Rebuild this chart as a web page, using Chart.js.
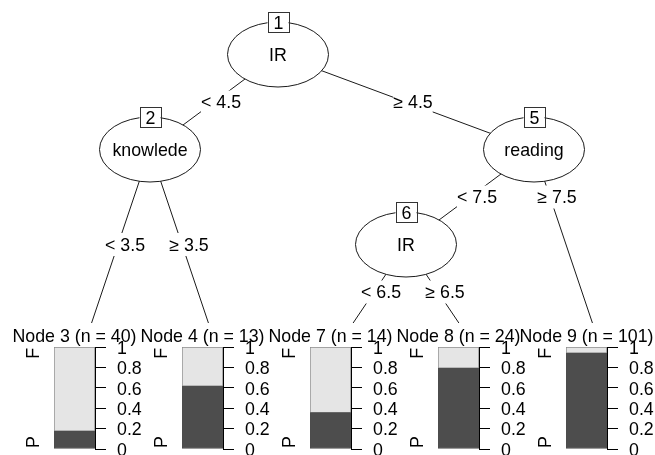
<!DOCTYPE html>
<html><head><meta charset="utf-8">
<script src="https://cdn.jsdelivr.net/npm/chart.js@4.4.0/dist/chart.umd.min.js"></script>
<style>
html,body{margin:0;padding:0;background:#fff;overflow:hidden;width:655px;height:455px;position:relative}
canvas{position:absolute;display:block}
</style></head><body>
<canvas id="tree" width="655" height="455" style="left:0;top:0"></canvas>
<script>
// ---------- data ----------
const innerIds = [1, 2, 5, 6];
const innerVars = ['IR', 'knowlede', 'reading', 'IR'];
const innerKids = [[2, 5], [3, 4], [6, 9], [7, 8]];
const edgeChildIds = [2, 5, 3, 4, 6, 9, 7, 8];
const edgeLabels = ['< 4.5', '\u2265 4.5', '< 3.5', '\u2265 3.5', '< 7.5', '\u2265 7.5', '< 6.5', '\u2265 6.5'];
const terminalIds = [3, 4, 7, 8, 9];
const terminalN = [40, 13, 14, 24, 101];
const countP = [7, 8, 5, 19, 95];
const countF = [33, 5, 9, 5, 6];
const classLevels = ['P', 'F'];
const tickValues = [0, 0.2, 0.4, 0.6, 0.8, 1];
const tickLabels = ['0', '0.2', '0.4', '0.6', '0.8', '1'];

// ---------- style ----------
const FONT = '"Liberation Sans", Arial, Helvetica, sans-serif';
const FS = 17.8;
Chart.defaults.font.family = FONT;
Chart.defaults.font.size = FS;
Chart.defaults.color = '#000';

// ---------- tree layout (partykit rule) ----------
const TNEX = 2;
const kidsOf = id => { const i = innerIds.indexOf(id); return i < 0 ? null : innerKids[i]; };
const widthOf = id => { const k = kidsOf(id); return k ? k.reduce((s, c) => s + widthOf(c), 0) : 1; };
const depthOf = id => { const k = kidsOf(id); return k ? 1 + Math.max(...k.map(depthOf)) : 0; };
const posFrac = id => {
  const k = kidsOf(id); if (!k) return 0.5;
  const w = k.map(widthOf), nk = w.length, tot = w.reduce((a, b) => a + b, 0);
  const cs = []; w.reduce((a, b, i) => (cs[i] = a + b), 0);
  const r = nk % 2 === 0 ? cs[nk / 2 - 1] : ((nk > 1 ? cs[(nk - 3) / 2] || 0 : 0) + cs[(nk - 1) / 2]) / 2;
  return r / tot;
};
const rootId = innerIds[0];
const nTerm = widthOf(rootId);
const rootY = TNEX + depthOf(rootId) - 0.5;
const nodePos = {}, edges = [];
function place(id, xlim, y0) {
  const x0 = xlim[0] + posFrac(id) * (xlim[1] - xlim[0]);
  nodePos[id] = { x: x0, y: y0 };
  const k = kidsOf(id); if (!k) return;
  const w = k.map(widthOf), tot = w.reduce((a, b) => a + b, 0);
  const lims = [xlim[0]]; let acc = 0;
  w.forEach(v => { acc += v; lims.push(xlim[0] + acc / tot * (xlim[1] - xlim[0])); });
  const x1 = k.map((c, i) => lims[i] + posFrac(c) * (lims[i + 1] - lims[i]));
  const y1 = k.map(c => kidsOf(c) ? y0 - 1 : TNEX - 0.5);
  const yl = y0 - (y0 - Math.max(...y1)) * 0.5;
  k.forEach((c, i) => {
    const xl = x0 + (x1[i] - x0) * (y0 - yl) / (y0 - y1[i]);
    edges.push({ child: c, x0, y0, x1: x1[i], y1: y1[i], xl, yl, label: edgeLabels[edgeChildIds.indexOf(c)] });
    if (kidsOf(c)) place(c, [lims[i], lims[i + 1]], y1[i]);
    else nodePos[c] = { x: x1[i], y: y1[i] };
  });
}
place(rootId, [0, nTerm], rootY);

// ---------- tree chart ----------
const PXU = 128, PXV = 95, X0PX = 22, ROOTPX = 54.5, TREEBOTTOM = 323;
const treeDecor = {
  id: 'treeDecor',
  afterDatasetsDraw(chart) {
    const ctx = chart.ctx, xs = chart.scales.x, ys = chart.scales.y;
    ctx.save();
    ctx.font = FS + 'px ' + FONT;
    // edge labels
    edges.forEach(e => {
      const px = xs.getPixelForValue(e.xl) + 7, py = ys.getPixelForValue(e.yl);
      const w = ctx.measureText(e.label).width;
      ctx.fillStyle = '#fff';
      ctx.fillRect(px - w / 2, py - 11.5, w, 23);
      ctx.fillStyle = '#000'; ctx.textAlign = 'center'; ctx.textBaseline = 'alphabetic';
      ctx.fillText(e.label, px, py + 6.3);
    });
    // inner nodes
    innerIds.forEach((id, i) => {
      const cx = xs.getPixelForValue(nodePos[id].x), cy = ys.getPixelForValue(nodePos[id].y);
      ctx.beginPath(); ctx.ellipse(cx, cy, 50.5, 32.5, 0, 0, Math.PI * 2);
      ctx.fillStyle = '#fff'; ctx.fill();
      ctx.lineWidth = 1; ctx.strokeStyle = '#1a1a1a'; ctx.stroke();
      ctx.fillStyle = '#000'; ctx.textAlign = 'center'; ctx.textBaseline = 'alphabetic';
      ctx.fillText(innerVars[i], cx, cy + 6.8);
      // id box
      const bw = 21, bh = 20, by = cy - 32.5;
      ctx.fillStyle = '#fff'; ctx.fillRect(cx - bw / 2, by - bh / 2, bw, bh);
      ctx.strokeStyle = '#333'; ctx.strokeRect(Math.round(cx - bw / 2) + 0.5, Math.round(by - bh / 2) + 0.5, bw, bh);
      ctx.fillStyle = '#000';
      ctx.fillText(String(id), cx + 0.5, by + 6.5);
    });
    ctx.restore();
  }
};

const treeChart = new Chart(document.getElementById('tree'), {
  type: 'scatter',
  data: {
    datasets: edges.map(e => ({
      data: [{ x: e.x0, y: e.y0 }, { x: e.x1, y: e.y1 }],
      showLine: true, pointRadius: 0, borderColor: '#1a1a1a', borderWidth: 1, tension: 0
    }))
  },
  options: {
    responsive: false, animation: false, devicePixelRatio: 1,
    layout: { padding: { left: 0, right: 0, top: 0, bottom: 455 - TREEBOTTOM } },
    scales: {
      x: { type: 'linear', display: false, min: -X0PX / PXU, max: (655 - X0PX) / PXU },
      y: { type: 'linear', display: false, min: rootY - (TREEBOTTOM - ROOTPX) / PXV, max: rootY + ROOTPX / PXV }
    },
    plugins: { legend: { display: false }, tooltip: { enabled: false } }
  },
  plugins: [treeDecor]
});

// ---------- terminal bar charts ----------
const CW = 188, CH = 140, MARG = 30, BARL = 32, BARW = 41, BARTOP = 24, BARH = 102;
terminalIds.forEach((id, i) => {
  const vpLeft = treeChart.scales.x.getPixelForValue(nodePos[id].x - 0.5);
  const cv = document.createElement('canvas');
  cv.width = CW; cv.height = CH;
  cv.style.left = Math.round(vpLeft - MARG) + 'px';
  cv.style.top = TREEBOTTOM + 'px';
  document.body.appendChild(cv);
  const termDecor = {
    id: 'termDecor',
    afterDraw(chart) {
      const ctx = chart.ctx, a = chart.chartArea, ys = chart.scales.y;
      ctx.save();
      ctx.font = FS + 'px ' + FONT;
      ctx.fillStyle = '#000';
      ctx.textAlign = 'center'; ctx.textBaseline = 'alphabetic';
      ctx.fillText('Node ' + id + ' (n = ' + terminalN[i] + ')', (a.left + a.right) / 2, a.top - 5.3);
      // level labels
      const lx = a.left - 20;
      ctx.textBaseline = 'middle';
      ctx.save(); ctx.translate(lx, ys.getPixelForValue(1) + 1); ctx.rotate(-Math.PI / 2);
      ctx.textAlign = 'right'; ctx.fillText(classLevels[1], 0, 0); ctx.restore();
      ctx.save(); ctx.translate(lx, ys.getPixelForValue(0) - 1); ctx.rotate(-Math.PI / 2);
      ctx.textAlign = 'left'; ctx.fillText(classLevels[0], 0, 0); ctx.restore();
      ctx.restore();
    }
  };
  new Chart(cv, {
    type: 'bar',
    data: {
      labels: [''],
      datasets: [
        { label: classLevels[0], data: [countP[i] / terminalN[i]], backgroundColor: '#4d4d4d', borderColor: '#4d4d4d',
          borderWidth: 1, borderSkipped: false, barPercentage: 1, categoryPercentage: 1 },
        { label: classLevels[1], data: [countF[i] / terminalN[i]], backgroundColor: '#e5e5e5', borderColor: '#8c8c8c',
          borderWidth: 1, borderSkipped: false, barPercentage: 1, categoryPercentage: 1 }
      ]
    },
    options: {
      responsive: false, animation: false, devicePixelRatio: 1,
      layout: { padding: { left: MARG + BARL, top: BARTOP, bottom: CH - BARTOP - BARH, right: 0 } },
      scales: {
        x: { display: false, stacked: true },
        y: {
          position: 'right', stacked: true, min: 0, max: 1,
          afterBuildTicks: s => { s.ticks = tickValues.map(v => ({ value: v })); },
          afterFit: s => { s.width = CW - MARG - BARL - BARW; s.paddingTop = 0; s.paddingBottom = 0; },
          ticks: { callback: v => tickLabels[tickValues.indexOf(v)], color: '#000', font: { size: FS, family: FONT },
                   padding: 11, autoSkip: false, labelOffset: 2 },
          grid: { display: true, drawOnChartArea: false, drawTicks: true, tickLength: 11, color: '#000', lineWidth: 1 },
          border: { display: true, color: '#000', width: 1 }
        }
      },
      plugins: { legend: { display: false }, tooltip: { enabled: false } }
    },
    plugins: [termDecor]
  });
});
</script>
</body></html>
